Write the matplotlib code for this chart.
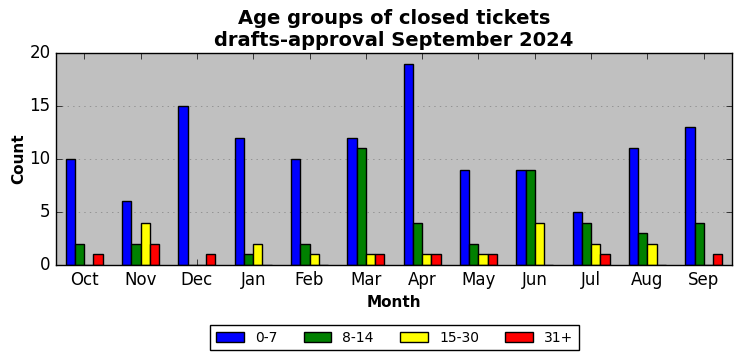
import numpy as np
import matplotlib
matplotlib.use("Agg")
import matplotlib.pyplot as plt

months = ["Oct", "Nov", "Dec", "Jan", "Feb", "Mar", "Apr", "May", "Jun", "Jul", "Aug", "Sep"]
age_0_7 = [10, 6, 15, 12, 10, 12, 19, 9, 9, 5, 11, 13]
age_8_14 = [2, 2, 0, 1, 2, 11, 4, 2, 9, 4, 3, 4]
age_15_30 = [0, 4, 0, 2, 1, 1, 1, 1, 4, 2, 2, 0]
age_31_plus = [1, 2, 1, 0, 0, 1, 1, 1, 0, 1, 0, 1]

groups = {"0-7": age_0_7, "8-14": age_8_14, "15-30": age_15_30, "31+": age_31_plus}
colors = ["blue", "green", "yellow", "red"]

plt.style.use("classic")
fig = plt.figure(figsize=(7.42, 3.61), dpi=100, facecolor="white")
ax = fig.add_axes([0.0755, 0.266, 0.911, 0.587])
ax.set_facecolor("silver")

x = np.arange(len(months))
width = 0.165
for i, (label, vals) in enumerate(groups.items()):
    ax.bar(x + (i - 1.5) * width, vals, width, color=colors[i], edgecolor="black",
           linewidth=1, label=label, align="center")

ax.set_xlim(-0.5, len(months) - 0.5)
ax.set_ylim(0, 20)
ax.set_xticks(x)
ax.set_xticklabels(months)
ax.set_yticks([0, 5, 10, 15, 20])
ax.yaxis.grid(True, linestyle=":", color="gray")
ax.xaxis.grid(False)
ax.set_axisbelow(True)
ax.tick_params(labelsize=12)

ax.set_title("Age groups of closed tickets\ndrafts-approval September 2024",
             fontsize=14, fontweight="bold")
ax.set_xlabel("Month", fontsize=11, fontweight="bold")
ax.set_ylabel("Count", fontsize=11, fontweight="bold", labelpad=2)

fig.legend(loc="lower center", ncol=4, fontsize=10, bbox_to_anchor=(0.532, 0.01),
           frameon=True, handlelength=2.0, columnspacing=1.9, handletextpad=0.8)

fig.savefig("out.png", dpi=100, facecolor="white")
